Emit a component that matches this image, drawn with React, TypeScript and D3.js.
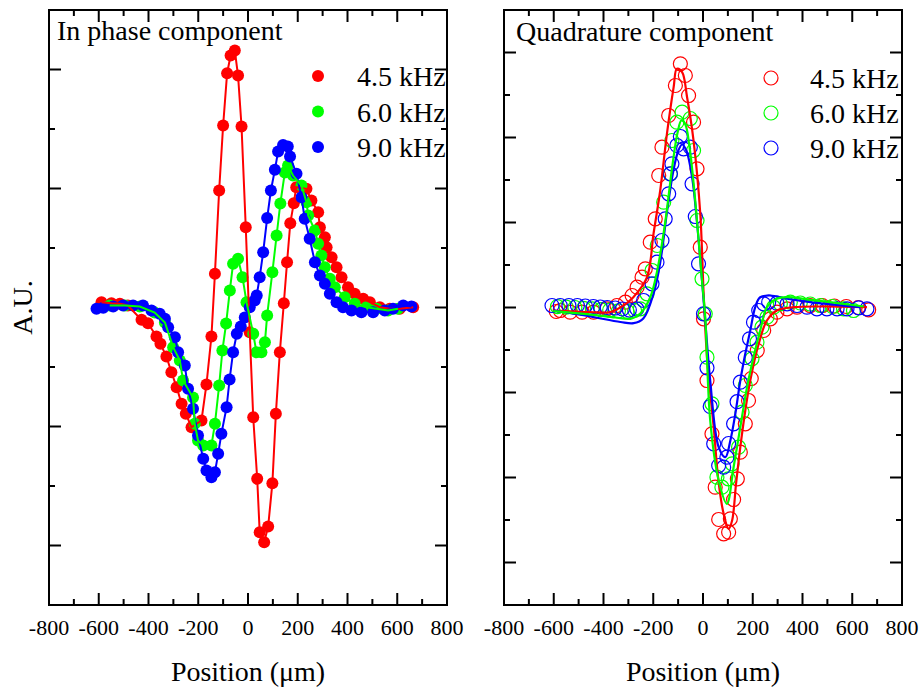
import React from "react";
import * as d3 from "d3";

// ---------- data ----------
const seriesLabels = ["4.5 kHz", "6.0 kHz", "9.0 kHz"];
const seriesColors = ["#ff0000", "#00ff00", "#0000ff"];

const xMajorTicks = [-800, -600, -400, -200, 0, 200, 400, 600, 800];
const xMinorTicks = [-700, -500, -300, -100, 100, 300, 500, 700];
const inPhaseMajor = [-4, -2, 0, 2, 4];
const inPhaseMinor = [-3, -1, 1, 3];
const quadMajor = [-6, -4, -2, 0, 2, 4, 6];
const quadMinor = [-5, -3, -1, 1, 3, 5];

// In phase component (filled dots connected)
const inPhase45: [number, number][] = [
  [-589, 0.089], [-549, 0.072], [-515, 0.062], [-483, 0.034], [-428, -0.207], [-402, -0.264],
  [-368, -0.487], [-352, -0.61], [-328, -0.824], [-308, -1.087], [-287, -1.339], [-267, -1.618],
  [-250, -1.787], [-227, -2.012], [-187, -1.899], [-167, -1.294], [-147, -0.487], [-133, 0.566],
  [-116, 1.966], [-100, 3.059], [-84, 3.938], [-70, 4.235], [-53, 4.319], [-40, 3.899],
  [-26, 3.042], [-9, 1.35], [7, -0.415], [21, -1.844], [37, -2.879], [47, -3.776],
  [65, -3.945], [81, -3.681], [98, -2.953], [112, -1.787], [128, -0.751], [144, 0.072],
  [157, 0.761], [170, 1.417], [184, 1.753], [194, 2.022], [235, 1.995], [255, 1.798],
  [282, 1.602], [289, 1.35], [309, 1.182], [316, 1.013], [336, 0.845], [356, 0.677],
  [376, 0.509], [402, 0.341], [429, 0.23], [463, 0.146], [490, 0.089], [530, 0.005],
  [570, -0.022], [610, -0.022], [664, 0.005],
];
const inPhase60: [number, number][] = [
  [-556, 0.034], [-495, 0.034], [-435, 0.017], [-375, -0.084], [-334, -0.252], [-301, -0.667],
  [-274, -0.891], [-261, -1.227], [-221, -1.513], [-214, -1.955], [-201, -2.235], [-180, -2.319],
  [-147, -2.319], [-133, -1.955], [-116, -1.311], [-103, -0.723], [-88, -0.269], [-73, 0.286],
  [-60, 0.734], [-40, 0.818], [-22, 0.509], [-6, 0.089], [21, -0.442], [34, -0.751],
  [54, -0.751], [68, -0.583], [77, -0.134], [98, 0.593], [115, 1.21], [130, 1.748],
  [148, 2.269], [161, 2.387], [181, 2.218], [215, 2.05], [235, 1.77], [242, 1.546],
  [269, 1.294], [282, 1.071], [295, 0.874], [309, 0.677], [329, 0.482], [349, 0.341],
  [389, 0.173], [429, 0.062], [476, 0.005], [517, -0.022], [563, -0.05], [603, -0.022],
];
const inPhase90: [number, number][] = [
  [-609, -0.022], [-582, -0.005], [-542, 0.017], [-502, 0.034], [-462, 0.034], [-422, 0.034],
  [-388, -0.05], [-355, -0.106], [-334, -0.19], [-321, -0.331], [-294, -0.499], [-281, -0.751],
  [-254, -0.975], [-241, -1.366], [-221, -1.703], [-201, -2.151], [-180, -2.543], [-167, -2.739],
  [-147, -2.852], [-133, -2.768], [-120, -2.459], [-107, -2.123], [-86, -1.676], [-74, -1.21],
  [-60, -0.751], [-45, -0.442], [-29, -0.319], [-13, -0.168], [7, 0.005], [27, 0.118],
  [35, 0.202], [47, 0.509], [61, 0.929], [77, 1.504], [92, 1.966], [108, 2.314],
  [121, 2.622], [141, 2.731], [160, 2.706], [169, 2.538], [195, 2.247], [215, 1.854],
  [228, 1.491], [248, 1.155], [269, 0.761], [289, 0.538], [309, 0.398], [329, 0.23],
  [356, 0.089], [382, 0.005], [416, -0.05], [456, -0.079], [503, -0.079], [550, -0.05],
  [583, -0.022], [624, 0.034], [657, 0.017],
];

// Quadrature component (open circles + fit curves)
const quad45: [number, number][] = [
  [-590, -0.094], [-574, -0.071], [-534, -0.11], [-486, -0.11], [-440, -0.11], [-386, -0.031],
  [-346, 0.047], [-312, 0.125], [-285, 0.282], [-265, 0.478], [-245, 0.713], [-232, 0.911],
  [-212, 1.536], [-192, 2.087], [-178, 3.106], [-165, 3.772], [-138, 4.518], [-111, 5.224],
  [-91, 5.734], [-71, 5.459], [-58, 4.988], [-38, 4.36], [-24, 3.264], [-11, 1.419],
  [2, -0.266], [16, -1.718], [36, -2.972], [49, -4.228], [63, -4.988], [83, -5.325],
  [103, -5.287], [110, -4.972], [123, -4.518], [138, -4.031], [150, -3.405], [170, -2.736],
  [183, -2.188], [194, -1.671], [218, -1.012], [244, -0.541], [271, -0.266], [297, -0.11],
  [338, -0.031], [378, 0.007], [431, 0.047], [480, 0.047], [528, 0.035], [576, 0.024],
  [624, 0.0], [666, -0.054],
];
const quad60: [number, number][] = [
  [-585, 0.02], [-550, 0.01], [-515, 0.0], [-480, -0.02], [-445, -0.03], [-410, -0.05],
  [-375, -0.06], [-340, -0.08], [-305, -0.09], [-275, -0.07], [-252, -0.031], [-225, 0.322],
  [-205, 0.871], [-184, 1.459], [-158, 2.478], [-131, 3.146], [-125, 3.929], [-105, 4.36],
  [-84, 4.595], [-51, 4.447], [-38, 3.694], [-24, 2.047], [-4, 0.675], [9, -0.148],
  [16, -1.169], [36, -2.266], [56, -3.993], [76, -4.228], [102, -4.031], [117, -3.678],
  [143, -3.287], [157, -2.464], [170, -1.835], [197, -1.207], [217, -0.816], [237, -0.464],
  [257, -0.228], [284, 0.007], [311, 0.087], [351, 0.125], [391, 0.106], [431, 0.082],
  [472, 0.047], [520, 0.024], [565, -0.031], [605, -0.071],
];
const quad90: [number, number][] = [
  [-607, 0.047], [-574, 0.047], [-539, 0.047], [-505, 0.047], [-473, 0.035], [-441, 0.024],
  [-413, 0.012], [-385, 0.0], [-353, -0.012], [-324, -0.035], [-296, -0.059], [-266, -0.035],
  [-239, 0.165], [-205, 0.558], [-185, 1.066], [-165, 1.576], [-152, 2.087], [-138, 2.675],
  [-131, 3.146], [-125, 3.381], [-105, 3.812], [-91, 4.024], [-78, 3.734], [-51, 3.772],
  [-44, 2.911], [-31, 2.141], [-18, 1.028], [2, -0.148], [16, -1.419], [29, -2.329],
  [43, -3.207], [63, -3.718], [83, -3.758], [96, -3.522], [103, -3.2], [123, -2.736],
  [137, -2.216], [150, -1.758], [170, -1.176], [187, -0.736], [203, -0.346], [224, -0.071],
  [244, 0.087], [264, 0.125], [297, 0.101], [338, 0.087], [378, 0.047], [418, 0.007],
  [458, -0.031], [498, -0.031], [539, -0.031], [579, -0.031], [626, -0.007], [659, -0.031],
];
const quadFit45: [number, number][] = [
  [-602, -0.071], [-453, -0.106], [-373, -0.11], [-320, 0.047], [-280, 0.242], [-225, 0.713],
  [-199, 1.734], [-172, 2.753], [-145, 4.087], [-118, 5.184], [-105, 5.616], [-84, 5.536],
  [-64, 4.948], [-38, 3.929], [-11, 2.212], [2, 0.4], [17, -1.247], [43, -2.816],
  [62, -4.071], [83, -4.854], [103, -5.207], [117, -5.012], [133, -4.141], [150, -3.287],
  [170, -2.424], [190, -1.718], [224, -0.854], [257, -0.306], [297, -0.071], [364, 0.007],
  [472, 0.024], [659, 0.007],
];
const quadFit60: [number, number][] = [
  [-602, -0.087], [-453, -0.165], [-353, -0.235], [-292, -0.266], [-252, -0.141], [-212, 0.242],
  [-184, 0.871], [-152, 2.0], [-123, 3.341], [-103, 4.094], [-87, 4.4], [-71, 4.306],
  [-55, 3.812], [-35, 2.753], [-4, 0.635], [9, -0.228], [29, -2.659], [63, -4.071],
  [96, -4.619], [123, -3.758], [150, -2.816], [177, -1.875], [203, -1.169], [230, -0.541],
  [257, 0.007], [297, 0.205], [338, 0.242], [431, 0.181], [565, 0.087], [646, 0.024],
];
const quadFit90: [number, number][] = [
  [-602, -0.071], [-453, -0.212], [-332, -0.341], [-279, -0.369], [-240, -0.259], [-199, 0.322],
  [-172, 1.059], [-144, 2.282], [-119, 3.224], [-99, 3.694], [-84, 3.835], [-67, 3.694],
  [-43, 3.035], [-23, 1.929], [-4, 0.635], [9, -0.306], [29, -1.718], [63, -3.287],
  [90, -3.522], [110, -3.129], [130, -2.501], [150, -1.718], [170, -1.089], [190, -0.541],
  [210, 0.007], [230, 0.242], [271, 0.282], [338, 0.205], [431, 0.125], [632, 0.007],
];

const inPhaseSeries = [inPhase45, inPhase60, inPhase90];
const quadSeries = [quad45, quad60, quad90];
const quadFits = [quadFit45, quadFit60, quadFit90];

// ---------- layout ----------
const W = 924;
const H = 693;
const FONT = "'Liberation Serif', 'Times New Roman', serif";
const TOP = 10;
const BOTTOM = 605;
const BIG = 28;

type Scale = d3.ScaleLinear<number, number>;

function Frame({ x, y, yMajor, yMinor }: { x: Scale; y: Scale; yMajor: number[]; yMinor: number[] }) {
  const [x0, x1] = x.range();
  const [y1, y0] = y.range();
  const maj = 12;
  const min = 6;
  return (
    <g stroke="#000" strokeWidth={2} fill="none">
      {xMajorTicks.map((t) => (
        <g key={"xm" + t}>
          <line x1={x(t)} x2={x(t)} y1={y1} y2={y1 - maj} />
          <line x1={x(t)} x2={x(t)} y1={y0} y2={y0 + maj} />
        </g>
      ))}
      {xMinorTicks.map((t) => (
        <g key={"xn" + t}>
          <line x1={x(t)} x2={x(t)} y1={y1} y2={y1 - min} />
          <line x1={x(t)} x2={x(t)} y1={y0} y2={y0 + min} />
        </g>
      ))}
      {yMajor.map((t) => (
        <g key={"ym" + t}>
          <line x1={x0} x2={x0 + maj} y1={y(t)} y2={y(t)} />
          <line x1={x1} x2={x1 - maj} y1={y(t)} y2={y(t)} />
        </g>
      ))}
      {yMinor.map((t) => (
        <g key={"yn" + t}>
          <line x1={x0} x2={x0 + min} y1={y(t)} y2={y(t)} />
          <line x1={x1} x2={x1 - min} y1={y(t)} y2={y(t)} />
        </g>
      ))}
      <rect x={x0} y={y0} width={x1 - x0} height={y1 - y0} />
    </g>
  );
}

function XLabels({ x }: { x: Scale }) {
  const cx = (x.range()[0] + x.range()[1]) / 2;
  return (
    <g fontFamily={FONT} fill="#000">
      {xMajorTicks.map((t) => (
        <text key={t} x={x(t)} y={635} fontSize={22} textAnchor="middle">
          {`${t}`}
        </text>
      ))}
      <text x={cx} y={681} fontSize={BIG} textAnchor="middle">
        Position (μm)
      </text>
    </g>
  );
}

export default function App() {
  const xL = d3.scaleLinear().domain([-800, 800]).range([49, 447]);
  const yL = d3.scaleLinear().domain([-5, 5]).range([BOTTOM, TOP]);
  const xR = d3.scaleLinear().domain([-800, 800]).range([504, 902]);
  const yR = d3.scaleLinear().domain([-7, 7]).range([BOTTOM, TOP]);

  const lineL = d3
    .line<[number, number]>()
    .x((d) => xL(d[0]))
    .y((d) => yL(d[1]));
  const lineR = d3
    .line<[number, number]>()
    .x((d) => xR(d[0]))
    .y((d) => yR(d[1]))
    .curve(d3.curveCatmullRom.alpha(0.5));

  const lineOrder = [0, 2, 1];

  return (
    <svg
      width={W}
      height={H}
      viewBox={`0 0 ${W} ${H}`}
      style={{ position: "absolute", left: 0, top: 0, background: "#fff" }}
    >
      <rect x={0} y={0} width={W} height={H} fill="#fff" />

      {/* Left panel: In phase */}
      <g>
        {inPhaseSeries.map((s, i) => (
          <g key={"ld" + i} fill={seriesColors[i]}>
            {s.map((d, j) => (
              <circle key={j} cx={xL(d[0])} cy={yL(d[1])} r={6} />
            ))}
          </g>
        ))}
        {lineOrder.map((i) => (
          <path key={"ll" + i} d={lineL(inPhaseSeries[i]) || ""} fill="none" stroke={seriesColors[i]} strokeWidth={2} />
        ))}
        <Frame x={xL} y={yL} yMajor={inPhaseMajor} yMinor={inPhaseMinor} />
        <text x={57} y={40} fontFamily={FONT} fontSize={BIG}>
          In phase component
        </text>
        {seriesLabels.map((lab, i) => (
          <g key={"lg" + i}>
            <circle cx={318} cy={76 + i * 35.5} r={6} fill={seriesColors[i]} />
            <text x={357} y={76 + i * 35.5 + 10} fontFamily={FONT} fontSize={BIG}>
              {lab}
            </text>
          </g>
        ))}
        <XLabels x={xL} />
        <text
          transform={`translate(32,${(TOP + BOTTOM) / 2}) rotate(-90)`}
          textAnchor="middle"
          fontFamily={FONT}
          fontSize={BIG}
        >
          A.U.
        </text>
      </g>

      {/* Right panel: Quadrature */}
      <g>
        {quadSeries.map((s, i) => (
          <g key={"rd" + i} fill="none" stroke={seriesColors[i]} strokeWidth={1.2}>
            {s.map((d, j) => (
              <circle key={j} cx={xR(d[0])} cy={yR(d[1])} r={7} />
            ))}
          </g>
        ))}
        {lineOrder.map((i) => (
          <path key={"rl" + i} d={lineR(quadFits[i]) || ""} fill="none" stroke={seriesColors[i]} strokeWidth={2.2} />
        ))}
        <Frame x={xR} y={yR} yMajor={quadMajor} yMinor={quadMinor} />
        <text x={516} y={41} fontFamily={FONT} fontSize={BIG}>
          Quadrature component
        </text>
        {seriesLabels.map((lab, i) => (
          <g key={"rg" + i}>
            <circle cx={771} cy={78 + i * 35} r={7} fill="none" stroke={seriesColors[i]} strokeWidth={1.2} />
            <text x={810} y={78 + i * 35 + 10} fontFamily={FONT} fontSize={BIG}>
              {lab}
            </text>
          </g>
        ))}
        <XLabels x={xR} />
      </g>
    </svg>
  );
}
